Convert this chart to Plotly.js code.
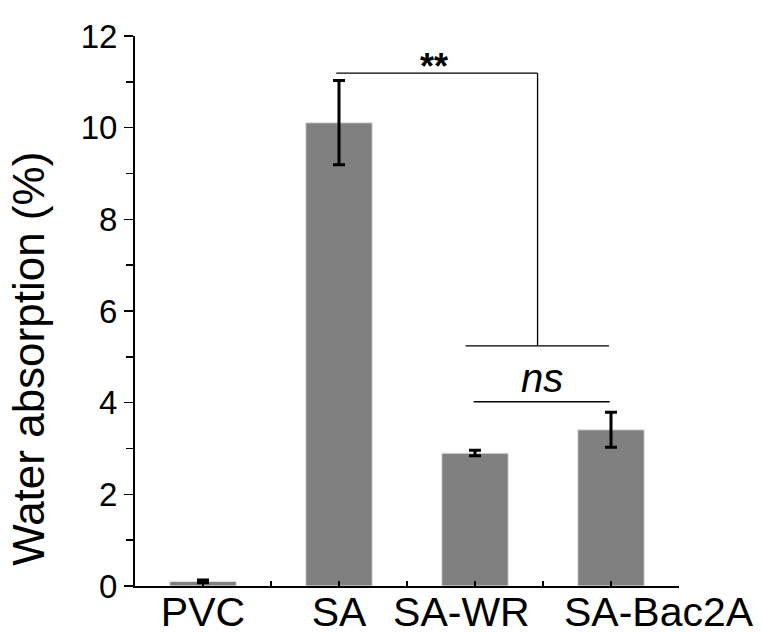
<!DOCTYPE html>
<html>
<head>
<meta charset="utf-8">
<script src="https://cdn.plot.ly/plotly-3.0.1.min.js"></script>
<style>html,body{margin:0;padding:0;background:#fff;}</style>
</head>
<body>
<div id="chart" style="width:762px;height:633px;"></div>
<script>
// Data
const categories = ['PVC', 'SA', 'SA-WR', 'SA-Bac2A'];
const waterAbsorption = [0.1, 10.11, 2.9, 3.41];
const errorSD = [0.03, 0.92, 0.06, 0.38];
const yTickVals = [0, 2, 4, 6, 8, 10, 12];

const FONT = '"Liberation Sans", Arial, Helvetica, sans-serif';
const xIdx = categories.map((c, i) => i);
// label placement offsets (the original labels are not centred under every bar)
const labelOffset = [0, 0, -0.1, 0.35];
const labelPos = xIdx.map((v, i) => v + labelOffset[i]);
const minorTicks = [0, 0.5, 1, 1.5, 2, 2.5, 3];

const trace = {
  type: 'bar',
  x: xIdx,
  y: waterAbsorption,
  width: 0.49,
  marker: {color: '#808080', line: {color: '#e3e3e3', width: 1.2}},
  error_y: {type: 'data', array: errorSD, visible: true, color: '#000', thickness: 3, width: 6},
  hoverinfo: 'skip'
};

const lineStyle = {color: '#000', width: 1.3};
const layout = {
  width: 762, height: 633,
  margin: {l: 135, r: 83, t: 36, b: 47},
  paper_bgcolor: '#fff', plot_bgcolor: '#fff',
  showlegend: false,
  font: {family: FONT, color: '#000'},
  xaxis: {
    type: 'linear', range: [-0.5, 3.5],
    tickmode: 'array', tickvals: labelPos, ticktext: categories, tickangle: 0,
    ticks: '', ticklabelstandoff: -11,
    minor: {tickmode: 'array', tickvals: minorTicks, ticks: 'inside', ticklen: 5, tickwidth: 1.3, tickcolor: '#000'},
    showline: true, linecolor: '#000', linewidth: 2,
    showgrid: false, zeroline: false,
    tickfont: {size: 41, family: FONT, color: '#000'}
  },
  yaxis: {
    range: [0, 12],
    tickmode: 'array', tickvals: yTickVals,
    ticks: 'outside', ticklen: 9, tickwidth: 1.5, tickcolor: '#000',
    minor: {tickmode: 'linear', tick0: 1, dtick: 2, ticks: 'outside', ticklen: 7, tickwidth: 1.5, tickcolor: '#000'},
    showline: true, linecolor: '#000', linewidth: 2,
    showgrid: false, zeroline: false,
    tickfont: {size: 33, family: FONT, color: '#000'}
  },
  shapes: [
    // ** bracket: SA to the SA-WR/SA-Bac2A group
    {type: 'line', xref: 'x', yref: 'y', x0: 0.98, x1: 2.46, y0: 11.19, y1: 11.19, line: lineStyle},
    {type: 'line', xref: 'x', yref: 'y', x0: 2.46, x1: 2.46, y0: 11.19, y1: 5.24, line: lineStyle},
    {type: 'line', xref: 'x', yref: 'y', x0: 1.93, x1: 2.985, y0: 5.24, y1: 5.24, line: lineStyle},
    // ns bracket
    {type: 'line', xref: 'x', yref: 'y', x0: 1.99, x1: 2.99, y0: 4.02, y1: 4.02, line: lineStyle}
  ],
  annotations: [
    {xref: 'x', yref: 'y', x: 1.7, y: 11.19, yanchor: 'bottom', yshift: -16, showarrow: false,
     text: '<b>**</b>', font: {size: 36, family: FONT, color: '#000'}},
    {xref: 'x', yref: 'y', x: 2.49, y: 4.02, yanchor: 'bottom', yshift: 0, showarrow: false,
     text: '<i>ns</i>', font: {size: 40, family: FONT, color: '#000'}},
    {xref: 'paper', yref: 'paper', x: -0.195, y: 0.413, xanchor: 'center', yanchor: 'middle',
     textangle: -90, showarrow: false,
     text: 'Water absorption (%)', font: {size: 44, family: FONT, color: '#000'}}
  ]
};

Plotly.newPlot('chart', [trace], layout, {displayModeBar: false, staticPlot: true});
</script>
</body>
</html>
